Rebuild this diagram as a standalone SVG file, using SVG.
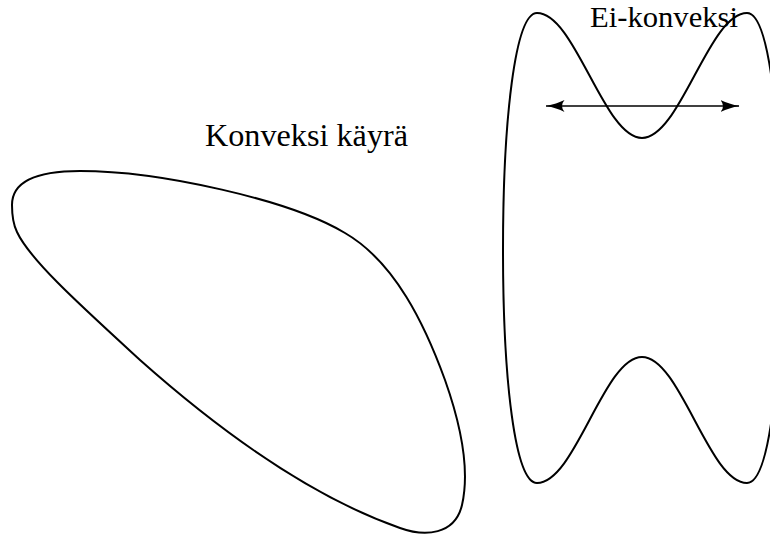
<svg xmlns="http://www.w3.org/2000/svg" width="770" height="535" viewBox="0 0 770 535">
<style>
.curve{fill:none;stroke:#000;stroke-width:2}
.lbl{font-family:"Liberation Serif","DejaVu Serif",serif;fill:#000}
</style>
<defs>
<marker id="ah" viewBox="0 0 19 12" refX="18.5" refY="6" markerWidth="19" markerHeight="12" markerUnits="userSpaceOnUse" orient="auto-start-reverse">
<path d="M0,0 Q8,4 19,6 Q8,8 0,12 Q5,6 0,0 Z" fill="#000"/>
</marker>
</defs>
<g id="convex">
<path class="curve" d="M12,205 C12,180 40,171 80,171 C160,171 290,200 345,233 C395,262 425,325 445,380 C462,428 470,470 462,505 C455,535 425,537 400,528 C320,500 230,440 140,360 C80,305 30,260 17,232 C12,222 12,212 12,205 Z"/>
<text class="lbl" x="205" y="146" font-size="31" textLength="203" lengthAdjust="spacingAndGlyphs">Konveksi käyrä</text>
</g>
<g id="nonconvex">
<path class="curve" d="M537,13 C575.2,13 603.8,138 642,138 C680.2,138 708.8,13 747,13 C769,13 781,120 781,250 C781,380 769,483 747,483 C708.8,483 680.2,357 642,357 C603.8,357 575.2,483 537,483 C515,483 503,380 503,250 C503,120 515,13 537,13 Z"/>
<text class="lbl" x="590" y="27" font-size="29" textLength="148" lengthAdjust="spacingAndGlyphs">Ei-konveksi</text>
</g>
<g id="connectors">
<line x1="546" y1="106" x2="739" y2="106" stroke="#000" stroke-width="1.5" marker-start="url(#ah)" marker-end="url(#ah)"/>
</g>
</svg>
